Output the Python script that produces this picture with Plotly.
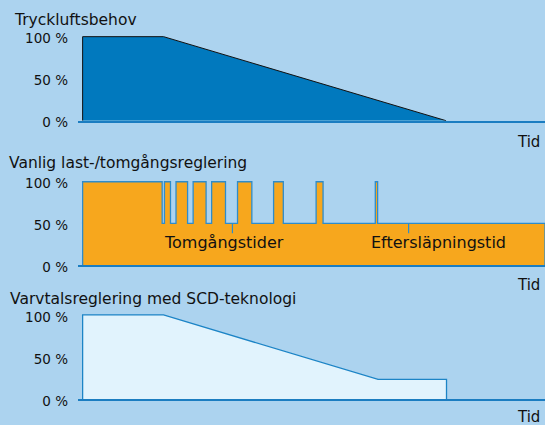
import plotly.graph_objects as go
from plotly.subplots import make_subplots

# ---- data (time in arbitrary units, 0..100; values in %) ----
titles = ["Tryckluftsbehov", "Vanlig last-/tomgångsreglering", "Varvtalsreglering med SCD-teknologi"]
axis_label = "Tid"
tick_vals = [0, 50, 100]
tick_text = ["0 %", "50 %", "100 %"]

demand_t = [0, 0, 17.5, 78.6]
demand_v = [0, 100, 100, 0]

loadidle_t = [0, 0, 17.2, 17.7, 19.0, 20.2, 22.7, 23.9, 26.7, 27.9, 30.9, 33.5,
              36.6, 41.3, 43.4, 50.5, 52.0, 63.3, 63.8, 100, 100]
loadidle_v = [0, 100, 50, 100, 50, 100, 50, 100, 50, 100, 50, 100,
              50, 100, 50, 100, 50, 100, 50, 50, 0]

scd_t = [0, 0, 17.5, 63.9, 78.7, 78.7]
scd_v = [0, 100, 100, 23.7, 23.7, 0]

note_labels = ["Tomgångstider", "Eftersläpningstid"]
note_t = [32.4, 70.5]        # where the pointer ticks sit
note_text_t = [17.1, 61.9]   # left edge of the text
note_y_top = 50
note_y_bottom = 38
note_text_y = 27

# ---- style ----
BG = "#ACD3EF"
AXIS_BLUE = "#1B7DC1"
FONT = "DejaVu Sans"
W, H = 545.0, 425.0
ML = 78.0

fig = make_subplots(rows=3, cols=1, shared_xaxes=False, vertical_spacing=0.05)

fig.add_trace(go.Scatter(x=demand_t, y=demand_v, mode="lines", fill="toself",
                         fillcolor="#0179BE", line=dict(color="#111111", width=1),
                         hoverinfo="skip", showlegend=False), row=1, col=1)
fig.add_trace(go.Scatter(x=loadidle_t, y=loadidle_v, mode="lines", fill="toself",
                         line_shape="hv", fillcolor="#F7A71D",
                         line=dict(color="#2E8CCB", width=1.3),
                         hoverinfo="skip", showlegend=False), row=2, col=1)
fig.add_trace(go.Scatter(x=scd_t, y=scd_v, mode="lines", fill="toself",
                         fillcolor="#E1F3FD", line=dict(color="#1C84C6", width=1.3),
                         hoverinfo="skip", showlegend=False), row=3, col=1)

# domains in paper fractions (from pixel layout of a 425px tall figure)
domains = [((H - 120.7) / H, (H - 33.3) / H),
           ((H - 265.0) / H, (H - 178.4) / H),
           ((H - 399.3) / H, (H - 311.6) / H)]

for i, (d0, d1) in enumerate(domains, start=1):
    fig.update_xaxes(row=i, col=1, range=[-1, 100], showline=True, linecolor=AXIS_BLUE,
                     linewidth=1.5, showgrid=False, zeroline=False, showticklabels=False,
                     ticks="", fixedrange=True)
    fig.update_yaxes(row=i, col=1, range=[0, 104], domain=[d0, d1], tickvals=tick_vals,
                     ticktext=tick_text, showgrid=False, zeroline=False, showline=False,
                     ticks="", ticklabelstandoff=9, ticklabelshift=2, fixedrange=True,
                     tickfont=dict(family=FONT, size=13.5, color="#111111"))

# pointer ticks and notes in panel 2
for t, tx, lab in zip(note_t, note_text_t, note_labels):
    fig.add_shape(type="line", x0=t, x1=t, y0=note_y_top, y1=note_y_bottom,
                  xref="x2", yref="y2", line=dict(color="#2E8CCB", width=1.2))
    fig.add_annotation(x=tx, y=note_text_y, xref="x2", yref="y2", text=lab,
                       showarrow=False, xanchor="left", yanchor="middle",
                       font=dict(family=FONT, size=16, color="#111111"))


def px_to_paper_x(px):
    return (px - ML) / (W - ML)


# panel titles
title_pos = [(12, 19.5), (6.5, 162.5), (7.5, 299)]
for txt, (px, py) in zip(titles, title_pos):
    fig.add_annotation(x=px_to_paper_x(px), y=(H - py) / H, xref="paper", yref="paper",
                       text=txt, showarrow=False, xanchor="left", yanchor="middle",
                       font=dict(family=FONT, size=15.5, color="#111111"))

# "Tid" labels
for py in [141.7, 285.0, 417.0]:
    fig.add_annotation(x=px_to_paper_x(542), y=(H - py) / H, xref="paper", yref="paper",
                       text=axis_label, showarrow=False, xanchor="right", yanchor="middle",
                       font=dict(family=FONT, size=15, color="#111111"))

fig.update_layout(width=545, height=425, paper_bgcolor=BG, plot_bgcolor=BG,
                  margin=dict(l=78, r=0, t=0, b=0, autoexpand=False),
                  font=dict(family=FONT, color="#111111"))

fig.write_html("out.html", config={"displayModeBar": False},
               post_script="document.body.style.margin='0';document.body.style.overflow='hidden';")
